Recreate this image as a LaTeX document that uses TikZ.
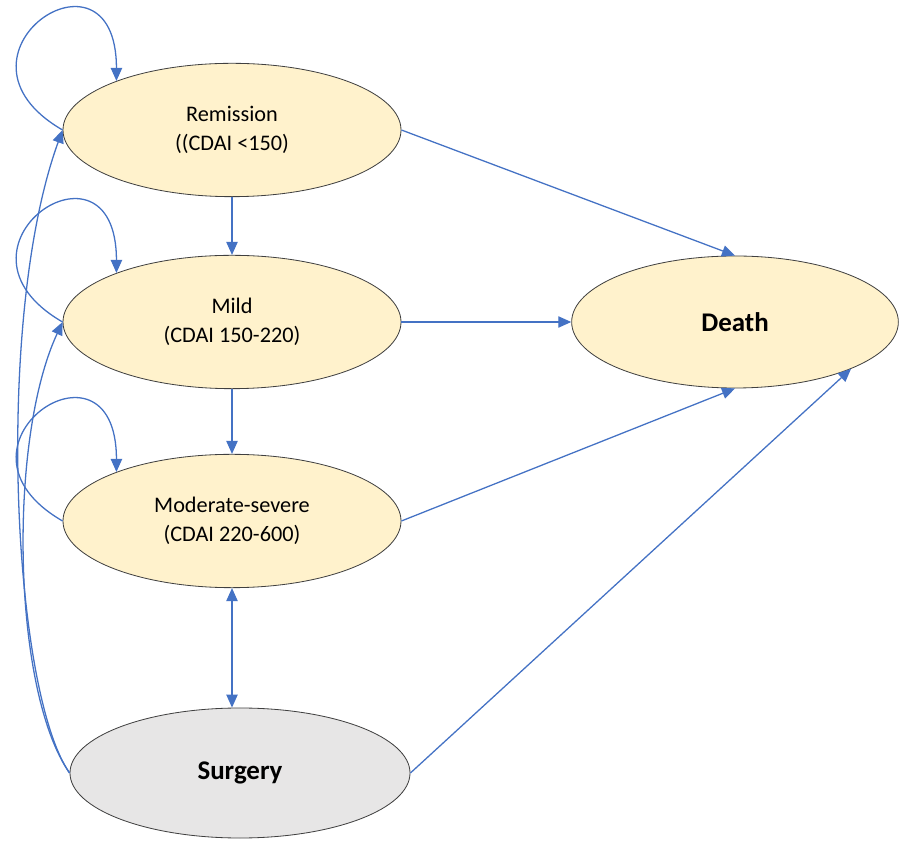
\documentclass[tikz,border=0pt]{standalone}
\usepackage{fontspec}
\setmainfont{Carlito}
\usepackage{xcolor}
\usetikzlibrary{shapes.geometric, arrows.meta, positioning}

\definecolor{stateyellow}{HTML}{FFF2CC}
\definecolor{surggray}{HTML}{E7E6E6}
\definecolor{arrowblue}{HTML}{4472C4}

\begin{document}
\begin{tikzpicture}[x=0.03cm, y=0.03cm,
  >={Triangle[length=0.39cm, width=0.34cm]},
  state/.style={ellipse, draw=black!75, line width=0.7pt, fill=stateyellow,
                inner sep=0pt, minimum width=10.14cm, minimum height=4.0cm,
                align=center, font=\fontsize{19}{25}\selectfont},
  surg/.style={state, fill=surggray, minimum width=10.2cm, minimum height=3.9cm},
  boldtext/.style={font=\fontsize{23}{27}\selectfont\bfseries},
  trans/.style={->, draw=arrowblue, line width=1.1pt}]
\useasboundingbox (0,0) rectangle (899,840);
% states
\node[state] (rem) at (232,710) {Remission\\((CDAI <150)};
\node[state] (mild) at (232,518) {Mild\\(CDAI 150-220)};
\node[state] (mod) at (232,319) {Moderate-severe\\(CDAI 220-600)};
\node[surg, boldtext] (sur) at (240,67) {Surgery};
\node[state, boldtext, minimum width=9.8cm, minimum height=3.96cm] (death) at (735,518) {Death};
% transitions
\draw[trans] (rem.south) -- (mild.north);
\draw[trans] (mild.south) -- (mod.north);
\draw[trans, <->] (mod.south) -- (mod.south |- sur.north);
\draw[trans] (rem.east) -- (death.north);
\draw[trans] (mild.east) -- (death.west);
\draw[trans] (mod.east) -- (death.south);
\draw[trans] (sur.east) -- (death.-22);
% staying in the same state
\foreach \s in {rem, mild, mod}
  \draw[trans] (\s.west) .. controls +(150:150) and +(90:150) .. (\s.157);
% back from surgery
\draw[trans] (sur.west) .. controls +(125:100) and +(250:200) .. (rem.west);
\draw[trans] (sur.west) .. controls +(125:100) and +(245:130) .. (mild.west);
\end{tikzpicture}
\end{document}
